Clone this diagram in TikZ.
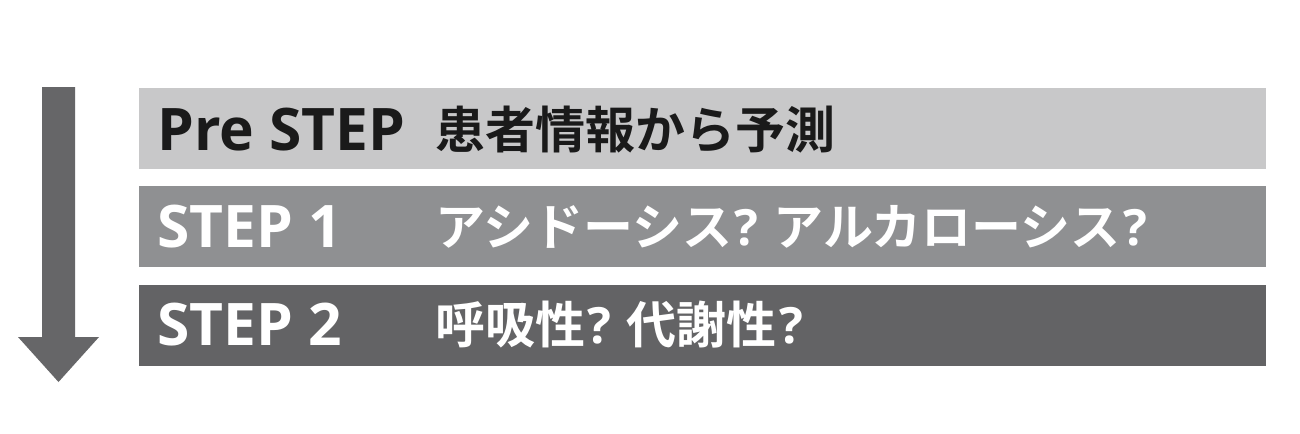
\documentclass[tikz,border=0pt]{standalone}
\usepackage{fontspec}
\setmainfont{Open Sans}
\newfontfamily\cjk{Noto Sans CJK JP Bold}
\newcommand{\qmk}{{\rmfamily\bfseries\kern2pt?}}
\definecolor{boxA}{HTML}{C8C8C9}
\definecolor{boxB}{HTML}{8F9092}
\definecolor{boxC}{HTML}{636365}
\definecolor{arrowgray}{HTML}{666668}
\definecolor{darktext}{HTML}{1A1A1A}
\begin{document}
\begin{tikzpicture}[x=0.75pt,y=-0.75pt,
  stepbox/.style={draw=none,anchor=north west,minimum width=1127*0.75pt,minimum height=81*0.75pt,inner sep=0pt},
  lab/.style={anchor=base west,inner sep=0pt,font=\fontsize{44}{48}\selectfont\bfseries},
  jlab/.style={anchor=base west,inner sep=0pt,font=\fontsize{37.5}{42}\selectfont\cjk}]
\useasboundingbox (0,0) rectangle (1300,433);
\fill[white] (0,0) rectangle (1300,433);
% arrow
\fill[arrowgray] (42,87) -- (75,87) -- (75,337) -- (99,337) -- (58.5,382) -- (18,337) -- (42,337) -- cycle;
% boxes
\node[stepbox,fill=boxA] (b0) at (139,88) {};
\node[stepbox,fill=boxB] (b1) at (139,186) {};
\node[stepbox,fill=boxC] (b2) at (139,285) {};
% labels
\node[lab,text=darktext] (l0) at (157,150) {Pre STEP};
\node[lab,text=white] (l1) at (157,247) {STEP 1};
\node[lab,text=white] (l2) at (157,345) {STEP 2};
\node[jlab,text=darktext] (t0) at (435,148) {患者情報から予測};
\node[jlab,text=white] (t1) at (435,245) {アシドーシス\qmk{} アルカローシス\qmk};
\node[jlab,text=white] (t2) at (435,343) {呼吸性\qmk{} 代謝性\qmk};
\end{tikzpicture}
\end{document}
